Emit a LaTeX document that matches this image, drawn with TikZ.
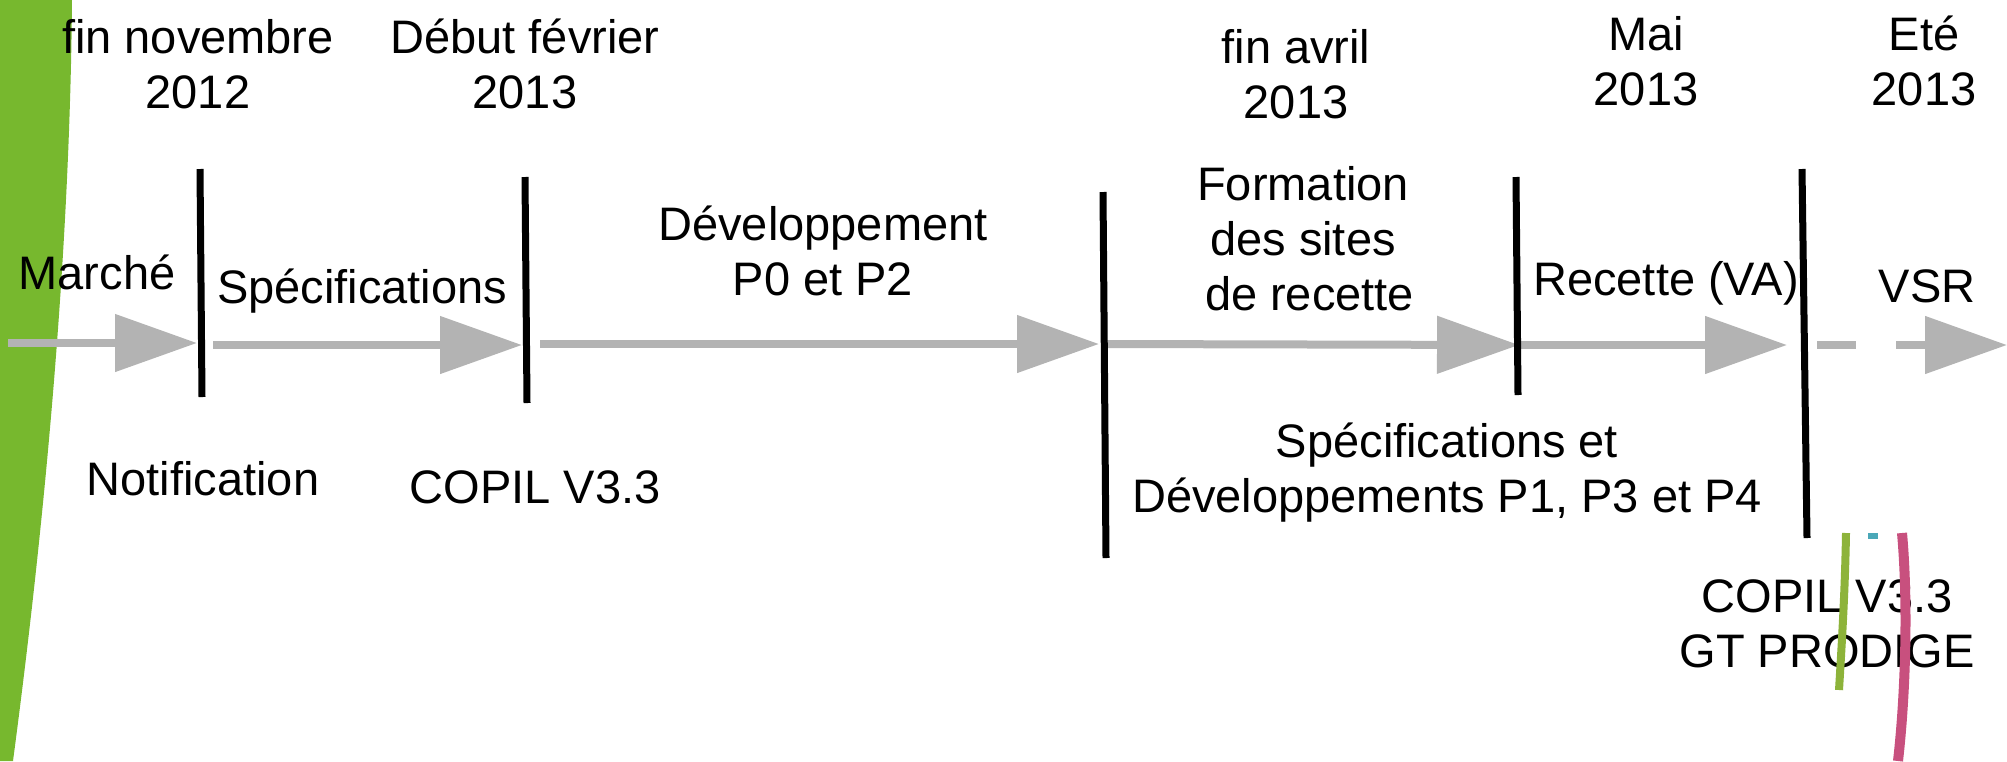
\documentclass[tikz,border=0pt]{standalone}
\usepackage{fontspec}
\setmainfont{Liberation Sans}
\usetikzlibrary{arrows.meta}
\definecolor{flowgray}{HTML}{B3B3B3}
\definecolor{leafgreen}{HTML}{77B82E}
\definecolor{markgreen}{HTML}{8DB33A}
\definecolor{markteal}{HTML}{4AA8B8}
\definecolor{markpink}{HTML}{C8507E}
\newcommand{\ml}[1]{\begin{tabular}[t]{@{}c@{}}#1\end{tabular}}
\tikzset{
  lbl/.style={font=\fontsize{23.5pt}{27.5pt}\selectfont, inner sep=0pt, anchor=base},
  milestone/.style={draw=black, line width=3.5pt},
  flow/.style={draw=flowgray, line width=4pt, -{Triangle[length=41pt,width=28pt]}},
  flowdash/.style={flow, dash pattern=on 19.5pt off 20pt},
}
\begin{document}
\begin{tikzpicture}[x=0.5pt,y=-0.5pt]
\useasboundingbox (0,0) rectangle (2007,761);
% green background leaf
\fill[leafgreen] (0,0) -- (72,0) .. controls (70,250) and (45,520) .. (13,761) -- (0,761) -- cycle;

% milestone coordinates
\coordinate (m1t) at (200,169); \coordinate (m1b) at (202,397);
\coordinate (m2t) at (525,177); \coordinate (m2b) at (527,403);
\coordinate (m3t) at (1103,192); \coordinate (m3b) at (1106,558);
\coordinate (m4t) at (1516,177); \coordinate (m4b) at (1518,395);
\coordinate (m5t) at (1802,169); \coordinate (m5b) at (1807,538);

% arrow coordinates
\coordinate (a1s) at (8,343);   \coordinate (a1e) at (197,343);
\coordinate (a2s) at (213,345); \coordinate (a2e) at (522,345);
\coordinate (a3s) at (540,344); \coordinate (a3e) at (1099,344);
\coordinate (a4s) at (1103,344); \coordinate (a4e) at (1519,345);
\coordinate (a5s) at (1520,345); \coordinate (a5e) at (1787,345);
\coordinate (a6s) at (1817,345); \coordinate (a6e) at (2007,345);

% arrows
\draw[flow] (a1s) -- (a1e);
\draw[flow] (a2s) -- (a2e);
\draw[flow] (a3s) -- (a3e);
\draw[flow] (a4s) -- (a4e);
\draw[flow] (a5s) -- (a5e);
\draw[flowdash] (a6s) -- (a6e);

% milestones
\draw[milestone] (m1t) -- (m1b);
\draw[milestone] (m2t) -- (m2b);
\draw[milestone] (m3t) -- (m3b);
\draw[milestone] (m4t) -- (m4b);
\draw[milestone] (m5t) -- (m5b);

% dates
\node[lbl] (d1) at (198,53) {\ml{fin novembre\\2012}};
\node[lbl] (d2) at (525,53) {\ml{Début février\\2013}};
\node[lbl] (d3) at (1296,63) {\ml{fin avril\\2013}};
\node[lbl] (d4) at (1646,50) {\ml{Mai\\2013}};
\node[lbl] (d5) at (1924,50) {\ml{Eté\\2013}};

% phases
\node[lbl] (p1) at (97,289) {Marché};
\node[lbl] (p2) at (362,303) {Spécifications};
\node[lbl] (p3) at (823,240) {\ml{Développement\\P0 et P2}};
\node[lbl] (p4) at (1303,200) {\ml{Formation\\des sites\\\ de recette}};
\node[lbl] (p5) at (1666,295) {Recette (VA)};
\node[lbl] (p6) at (1927,302) {VSR};

% events
\node[lbl] (e1) at (203,495) {Notification};
\node[lbl] (e2) at (535,503) {COPIL V3.3};
\node[lbl] (e3) at (1447,457) {\ml{Spécifications et\\Développements P1, P3 et P4}};
\node[lbl] (e4) at (1827,612) {\ml{COPIL V3.3\\GT PRODIGE}};

% coloured marks
\coordinate (g1) at (1846,533); \coordinate (g2) at (1839,690);
\coordinate (t1) at (1868,536); \coordinate (t2) at (1878,536);
\coordinate (k1) at (1902,533); \coordinate (k2) at (1898,761);
\draw[markgreen, line width=4pt] (g1) .. controls (1845,590) and (1842,640) .. (g2);
\draw[markteal, line width=3pt] (t1) -- (t2);
\draw[markpink, line width=5pt] (k1) .. controls (1908,600) and (1906,690) .. (k2);
\end{tikzpicture}
\end{document}
